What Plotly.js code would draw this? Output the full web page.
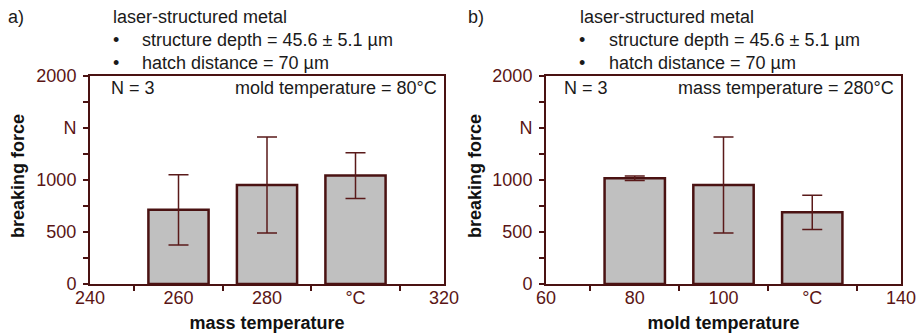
<!DOCTYPE html>
<html>
<head>
<meta charset="utf-8">
<script src="https://cdn.plot.ly/plotly-3.0.1.min.js"></script>
<style>html,body{margin:0;padding:0;background:#fff;}#chart{width:917px;height:333px;}</style>
</head>
<body>
<div id="chart"></div>
<script>
// ---- data ----
const massTemps = [260, 280, 300];
const massForce = [713, 952, 1043];
const massErr = [338, 462, 220];

const moldTemps = [80, 100, 120];
const moldForce = [1016, 952, 689];
const moldErr = [22, 462, 165];

const leftTickVals = [240, 260, 280, 300, 320];
const leftTickText = ['240', '260', '280', '°C', '320'];
const rightTickVals = [60, 80, 100, 120, 140];
const rightTickText = ['60', '80', '100', '°C', '140'];
const yTickVals = [0, 500, 1000, 1500, 2000];
const yTickText = ['0', '500', '1000', 'N', '2000'];

// ---- styling ----
const W = 917, H = 333;
const axisColor = '#4a1212';
const labelColor = '#5a1515';
const FONT = 'Liberation Sans, Arial, sans-serif';
const TICK = 18, TXT = 18, TTL = 18;
const px = x => x / W;
const py = y => 1 - y / H;

function barTrace(x, y, e, xa, ya) {
  return {
    type: 'bar', x: x, y: y, xaxis: xa, yaxis: ya, width: 13.6,
    marker: {color: '#c0c0c0', line: {color: axisColor, width: 2.5}},
    error_y: {type: 'data', array: e, visible: true, color: '#5a1a1a', thickness: 1.5, width: 10},
    showlegend: false, hoverinfo: 'skip'
  };
}

function xAxis(domain, range, vals, text, title, anchor) {
  return {
    domain: domain, range: range, anchor: anchor,
    tickmode: 'array', tickvals: vals, ticktext: text, ticks: '',
    ticklabelstandoff: -4,
    minor: {tickmode: 'linear', tick0: range[0] + 10, dtick: 20, ticks: 'outside', ticklen: 5, tickwidth: 2, tickcolor: axisColor, showgrid: false},
    showline: true, linecolor: axisColor, linewidth: 2, mirror: true,
    showgrid: false, zeroline: false,
    tickfont: {family: FONT, size: TICK, color: labelColor},
    title: {text: '<b>' + title + '</b>', font: {family: FONT, size: TTL, color: '#111'}, standoff: 12},
    fixedrange: true
  };
}

function yAxis(domain, anchor) {
  return {
    domain: domain, range: [0, 2000], anchor: anchor,
    tickmode: 'array', tickvals: yTickVals, ticktext: yTickText,
    ticks: 'outside', ticklen: 5, tickwidth: 2, tickcolor: axisColor,
    ticklabelstandoff: 3,
    minor: {tickmode: 'linear', tick0: 0, dtick: 250, ticks: 'outside', ticklen: 5, tickwidth: 2, tickcolor: axisColor, showgrid: false},
    showline: true, linecolor: axisColor, linewidth: 2, mirror: true,
    showgrid: false, zeroline: false,
    tickfont: {family: FONT, size: TICK, color: labelColor},
    fixedrange: true
  };
}

const yDom = [py(284), py(76)];

const data = [
  barTrace(massTemps, massForce, massErr, 'x', 'y'),
  barTrace(moldTemps, moldForce, moldErr, 'x2', 'y2')
];

function txt(x, y, text, anchor) {
  return {xref: 'paper', yref: 'paper', x: px(x), y: py(y), text: text, showarrow: false,
    xanchor: anchor || 'left', yanchor: 'middle', font: {family: FONT, size: TXT, color: '#1a1a1a'}};
}
function ytitle(x) {
  return {xref: 'paper', yref: 'paper', x: px(x), y: py(176), text: '<b>breaking force</b>', showarrow: false,
    textangle: -90, xanchor: 'center', yanchor: 'middle', font: {family: FONT, size: TTL, color: '#111'}};
}

const annotations = [
  txt(6, 17, 'a)'), txt(111, 17, 'laser-structured metal'),
  txt(111, 40, '•'), txt(140, 40, 'structure depth = 45.6 ± 5.1 µm'),
  txt(111, 63, '•'), txt(140, 63, 'hatch distance = 70 µm'),
  txt(109, 88, 'N = 3'), txt(439, 88, 'mold temperature = 80°C', 'right'),

  txt(466, 17, 'b)'), txt(578, 17, 'laser-structured metal'),
  txt(577, 40, '•'), txt(607, 40, 'structure depth = 45.6 ± 5.1 µm'),
  txt(577, 63, '•'), txt(607, 63, 'hatch distance = 70 µm'),
  txt(562, 88, 'N = 3'), txt(896, 88, 'mass temperature = 280°C', 'right'),

  ytitle(18), ytitle(475)
];

const layout = {
  width: W, height: H,
  margin: {l: 0, r: 0, t: 0, b: 0},
  paper_bgcolor: '#fff', plot_bgcolor: '#fff',
  font: {family: FONT},
  bargap: 0,
  xaxis: xAxis([px(90), px(444)], [240, 320], leftTickVals, leftTickText, 'mass temperature', 'y'),
  yaxis: yAxis(yDom, 'x'),
  xaxis2: xAxis([px(546), px(901)], [60, 140], rightTickVals, rightTickText, 'mold temperature', 'y2'),
  yaxis2: yAxis(yDom, 'x2'),
  annotations: annotations
};

Plotly.newPlot('chart', data, layout, {staticPlot: true, displayModeBar: false});
</script>
</body>
</html>
